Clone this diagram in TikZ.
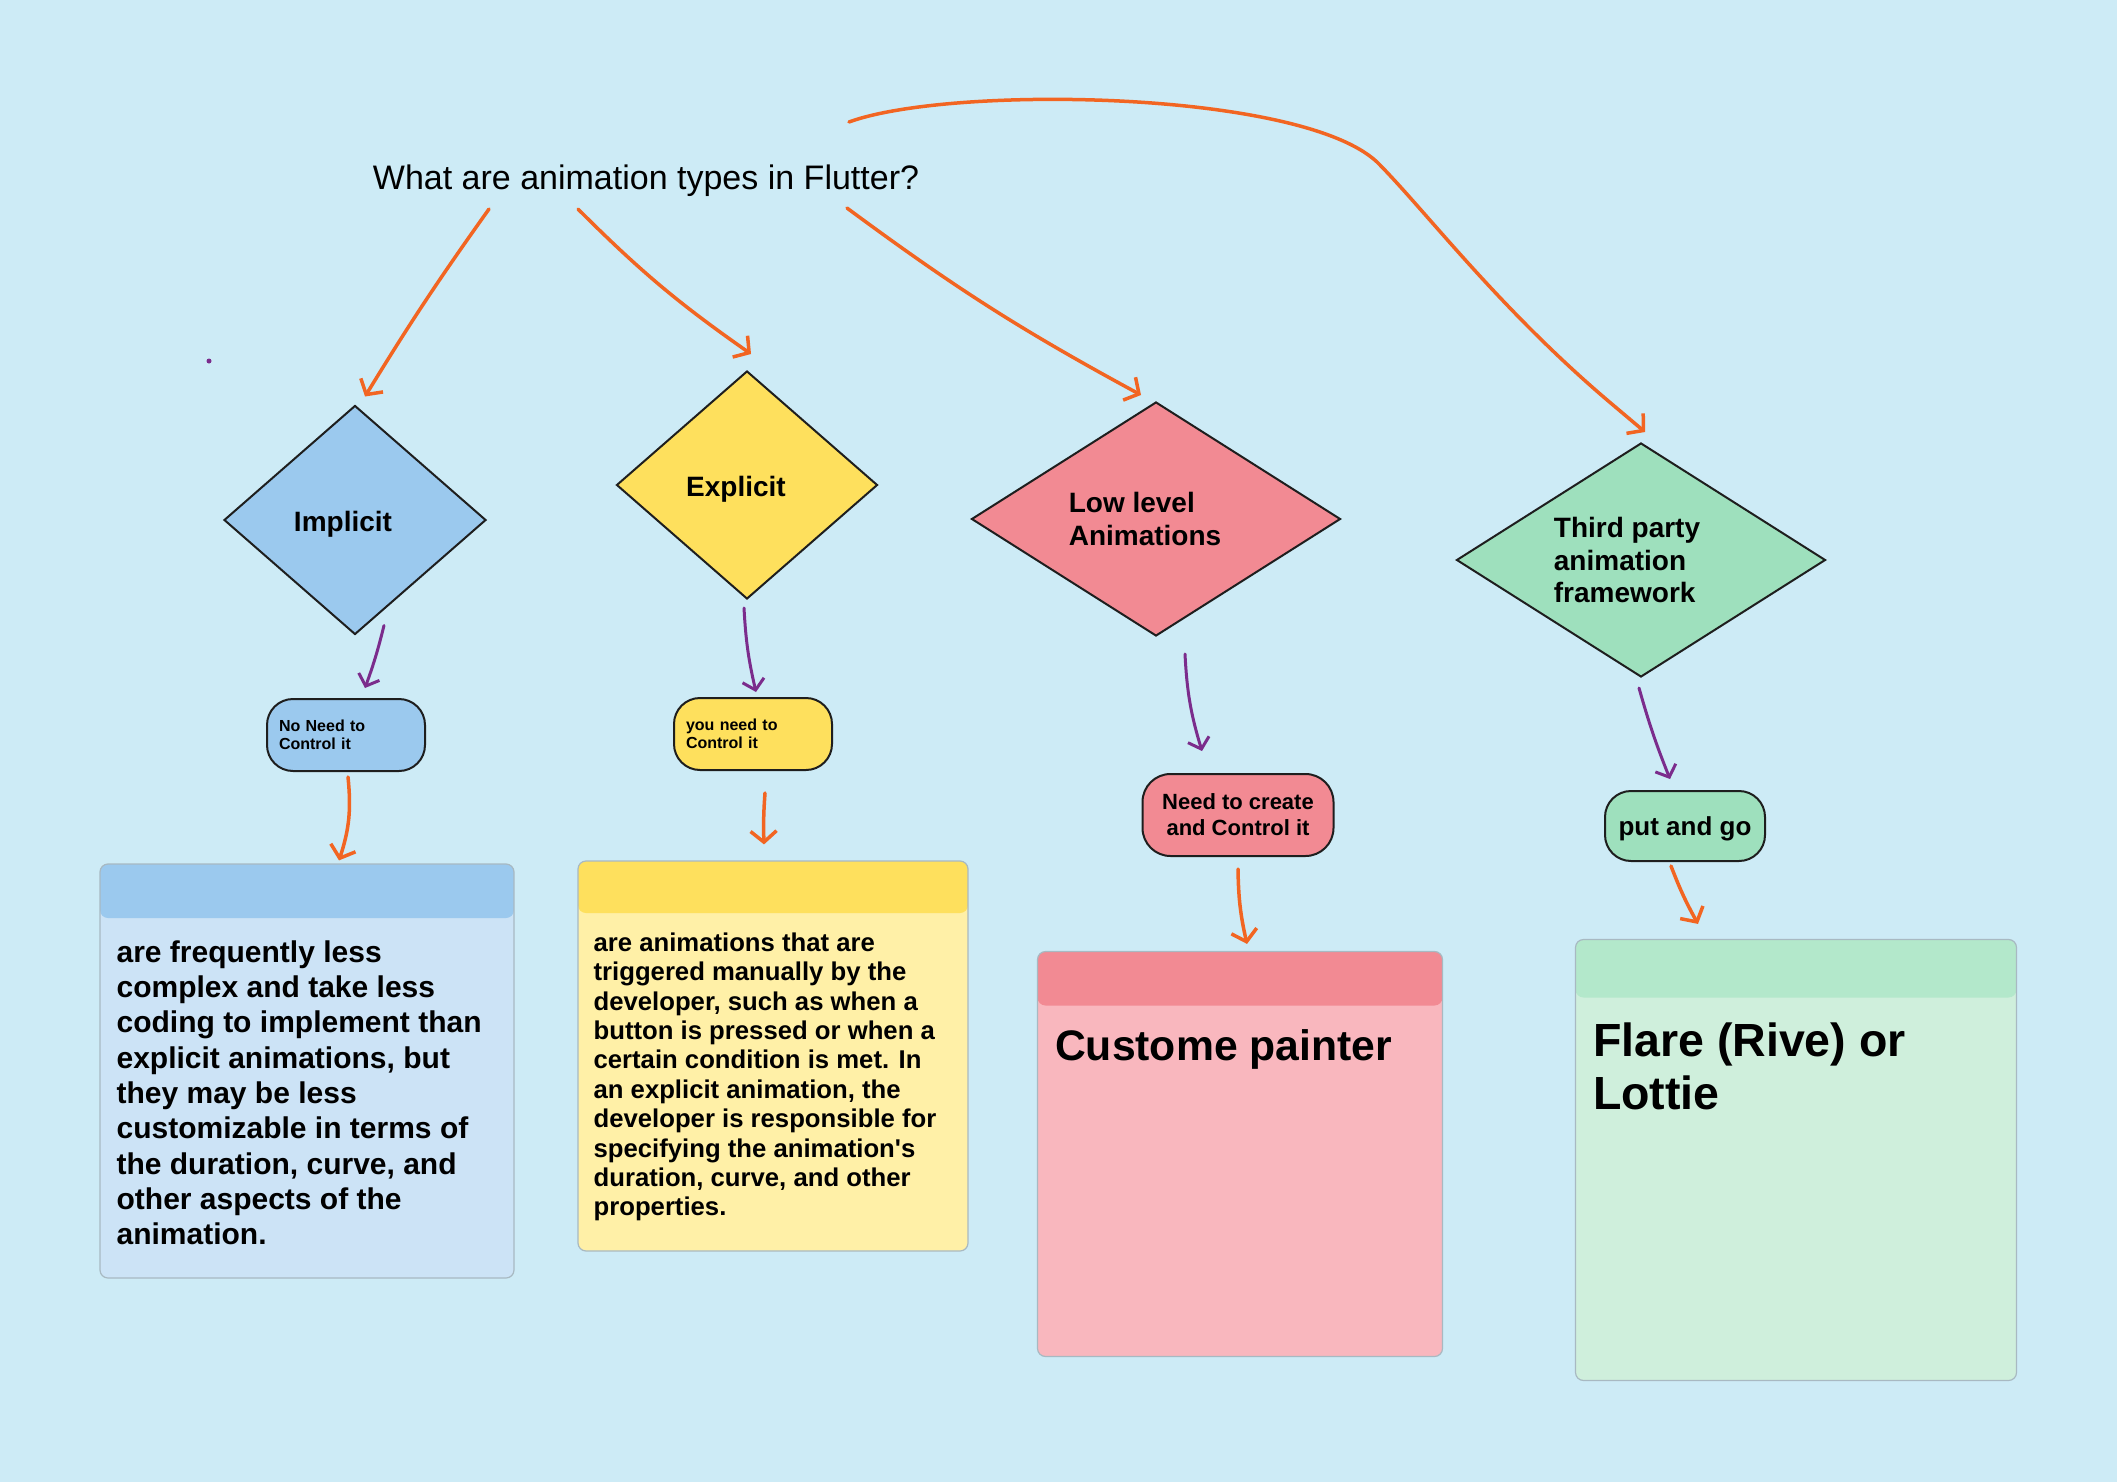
\documentclass[tikz,border=0pt]{standalone}
\usepackage{fontspec}
\setmainfont{Liberation Sans}[Ligatures=TeXOff]
\usetikzlibrary{shapes.geometric,arrows.meta}

\definecolor{backdrop}{HTML}{CDEBF6}
\definecolor{implicitblue}{HTML}{9BC9EE}
\definecolor{implicitpale}{HTML}{CCE3F6}
\definecolor{explicityellow}{HTML}{FEE05D}
\definecolor{explicitpale}{HTML}{FFF0A7}
\definecolor{lowpink}{HTML}{F28A93}
\definecolor{lowpale}{HTML}{F9B7BE}
\definecolor{thirdgreen}{HTML}{9EE0BD}
\definecolor{thirdhead}{HTML}{B3E8CB}
\definecolor{thirdpale}{HTML}{CFEFDC}
\definecolor{floworange}{HTML}{F26522}
\definecolor{linkpurple}{HTML}{7B2C8C}
\definecolor{cardedge}{HTML}{A8B9C2}
\definecolor{shapeedge}{HTML}{1E1E1E}

\begin{document}
\begin{tikzpicture}[x=1pt, y=-1pt,
    every node/.style={inner sep=0pt},
    decision/.style={diamond, draw=shapeedge, line width=2pt, fill=#1},
    choice/.style={rectangle, rounded corners=26pt, draw=shapeedge, line width=2pt, fill=#1},
    card/.style n args={3}{rectangle, rounded corners=8pt, draw=cardedge, line width=1.2pt, fill=#1,
      path picture={\fill[#2] (path picture bounding box.north west) rectangle ([yshift=-#3]path picture bounding box.north east);}},
    dlabel/.style={font=\bfseries\fontsize{28}{32.4}\selectfont, align=left},
    flow/.style={draw=floworange, line width=3.5pt, line cap=round, -{Straight Barb[length=11pt,width=26pt]}},
    link/.style={draw=linkpurple, line width=3pt, line cap=round, -{Straight Barb[length=10pt,width=22pt]}}]

    \fill [backdrop] (0,0) rectangle (2117,1482);
    \useasboundingbox (0,0) rectangle (2117,1482);

    \node [font=\fontsize{34}{40}\selectfont] (question) at (646,181) {What are animation types in Flutter?};

    \node [decision=implicitblue, minimum width=262pt, minimum height=229pt] (implicit) at (355,520) {};
    \node [decision=explicityellow, minimum width=261pt, minimum height=228pt] (explicit) at (747,485) {};
    \node [decision=lowpink, minimum width=369pt, minimum height=234pt] (lowlevel) at (1156,519) {};
    \node [decision=thirdgreen, minimum width=369pt, minimum height=234pt] (thirdparty) at (1641,560) {};

    \node [dlabel] (implicittext) at ([shift={(-12,4)}]implicit.center) {Implicit};
    \node [dlabel] (explicittext) at ([shift={(-11,4)}]explicit.center) {Explicit};
    \node [dlabel] (lowleveltext) at ([xshift=-11pt]lowlevel.center) {Low level\\Animations};
    \node [dlabel] (thirdpartytext) at ([xshift=-14pt]thirdparty.center) {Third party\\animation\\framework};

    \node [choice=implicitblue, minimum width=158pt, minimum height=72pt, text width=134pt, inner xsep=12pt,
      align=left, font=\bfseries\fontsize{16}{18}\selectfont] (implicitneed) at (346,735) {No Need to\\Control it};
    \node [choice=explicityellow, minimum width=158pt, minimum height=72pt, text width=134pt, inner xsep=12pt,
      align=left, font=\bfseries\fontsize{16}{18}\selectfont] (explicitneed) at (753,734) {you need to\\Control it};
    \node [choice=lowpink, minimum width=191pt, minimum height=82pt, rounded corners=28pt,
      align=center, font=\bfseries\fontsize{22}{26}\selectfont] (lowlevelneed) at (1238,815) {Need to create\\and Control it};
    \node [choice=thirdgreen, minimum width=160pt, minimum height=70pt, text height=25pt, text depth=5.5pt,
      font=\bfseries\fontsize{26}{30}\selectfont] (thirdpartyneed) at (1685,826) {put and go};

    \node [card={implicitpale}{implicitblue}{54pt}, minimum width=414pt, minimum height=414pt] (implicitcard) at (307,1071) {};
    \node [card={explicitpale}{explicityellow}{52pt}, minimum width=390pt, minimum height=390pt] (explicitcard) at (773,1056) {};
    \node [card={lowpale}{lowpink}{54pt}, minimum width=405pt, minimum height=405pt] (lowlevelcard) at (1240,1154) {};
    \node [card={thirdpale}{thirdhead}{58pt}, minimum width=441pt, minimum height=441pt] (thirdpartycard) at (1796,1160) {};

    \node [anchor=north west, align=left, font=\bfseries\fontsize{30}{35.3}\selectfont] (implicitnote)
      at ([shift={(17,77)}]implicitcard.north west)
      {are frequently less\\complex and take less\\coding to implement than\\explicit animations, but\\they may be less\\customizable in terms of\\the duration, curve, and\\other aspects of the\\animation.};
    \node [anchor=north west, align=left, font=\bfseries\fontsize{25.7}{29.4}\selectfont] (explicitnote)
      at ([shift={(16,72)}]explicitcard.north west)
      {are animations that are\\triggered manually by the\\developer, such as when a\\button is pressed or when a\\certain condition is met. In\\an explicit animation, the\\developer is responsible for\\specifying the animation's\\duration, curve, and other\\properties.};
    \node [anchor=north west, align=left, font=\bfseries\fontsize{42.7}{50}\selectfont] (lowlevelnote)
      at ([shift={(18,78)}]lowlevelcard.north west) {Custome painter};
    \node [anchor=north west, align=left, font=\bfseries\fontsize{46.5}{53}\selectfont] (thirdpartynote)
      at ([shift={(18,84)}]thirdpartycard.north west) {Flare (Rive) or\\Lottie};

    \coordinate (loopstart) at (849,122);
    \draw [flow] ([shift={(-157,12)}]question.south) to [bend right=2] ([shift={(10,-8)}]implicit.north);
    \draw [flow] ([shift={(-68,12)}]question.south) to [bend right=5] ([shift={(4,-16)}]explicit.north);
    \draw [flow] ([shift={(201,11)}]question.south) to [bend right=4] ([shift={(-15,-6)}]lowlevel.north);
    \draw [flow] (loopstart) .. controls (950,85) and (1300,90) .. (1377,162)
      .. controls (1425,210) and (1500,310) .. (1613,405) -- ([shift={(4,-10)}]thirdparty.north);

    \draw [link] ([shift={(29,-10)}]implicit.south) to [bend left=3] ([shift={(19,-10)}]implicitneed.north);
    \draw [link] ([shift={(-3,8)}]explicit.south) to [bend right=5] ([shift={(3,-5)}]explicitneed.north);
    \draw [link] ([shift={(29,17)}]lowlevel.south) to [bend right=7] ([shift={(-36,-22)}]lowlevelneed.north);
    \draw [link] ([shift={(-2,10)}]thirdparty.south) to [bend right=3] ([shift={(-15,-11)}]thirdpartyneed.north);

    \draw [flow] ([shift={(2,5)}]implicitneed.south) to [bend left=12] ([shift={(32,-3)}]implicitcard.north);
    \draw [flow] ([shift={(12,22)}]explicitneed.south) to [bend right=3] ([shift={(-9,-16)}]explicitcard.north);
    \draw [flow] ([shift={(0,12)}]lowlevelneed.south) to [bend right=6] ([shift={(7,-7)}]lowlevelcard.north);
    \draw [flow] ([shift={(-14,4)}]thirdpartyneed.south) to [bend right=4] ([shift={(-98,-15)}]thirdpartycard.north);

    \fill [linkpurple] (209,361) circle (2.5);
\end{tikzpicture}
\end{document}
